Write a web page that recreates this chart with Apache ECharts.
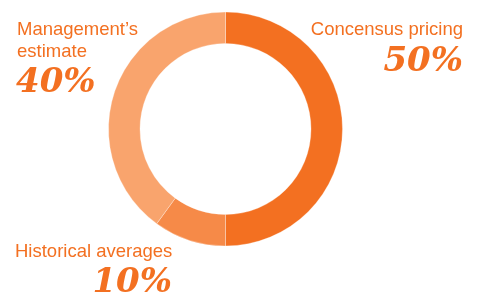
<!DOCTYPE html>
<html><head><meta charset="utf-8">
<script src="https://cdn.jsdelivr.net/npm/echarts@6/dist/echarts.min.js"></script>
<style>html,body{margin:0;padding:0;background:#fff}#c{width:479px;height:293px}</style>
</head><body><div id="c"></div>
<script>
var categories = ['Concensus pricing', 'Historical averages', 'Management\u2019s\nestimate'];
var values = [50, 10, 40];
var colors = ['#F37021', '#F68A48', '#F9A46D'];

var chart = echarts.init(document.getElementById('c'), null, {renderer: 'canvas'});
var nameFont = '18.5px "Liberation Sans", Arial, sans-serif';
var pctFont = 'italic bold 34px "DejaVu Serif", serif';
var txtColor = '#F37021';
var labelPos = [
  {x: 463, y: 19, align: 'right', px: 463, py: 45, palign: 'right'},
  {x: 15, y: 241, align: 'left', px: 172, py: 266, palign: 'right'},
  {x: 17, y: 19, align: 'left', px: 16, py: 66, palign: 'left'}
];
var graphics = [];
categories.forEach(function (c, i) {
  var p = labelPos[i];
  graphics.push({type: 'text', style: {x: p.x, y: p.y, text: c, font: nameFont, fill: txtColor, align: p.align, verticalAlign: 'top', lineHeight: 22}});
  graphics.push({type: 'text', style: {x: p.px, y: p.py, text: values[i] + '%', font: pctFont, fill: txtColor, align: p.palign, verticalAlign: 'top'}});
});

chart.setOption({
  animation: false,
  series: [{
    type: 'pie',
    center: [225.5, 129],
    radius: [85.5, 117],
    startAngle: 90,
    clockwise: true,
    label: {show: false},
    labelLine: {show: false},
    itemStyle: {borderColor: 'rgba(255,255,255,0.6)', borderWidth: 0.5},
    data: categories.map(function (c, i) {
      return {name: c, value: values[i], itemStyle: {color: colors[i]}};
    })
  }],
  graphic: graphics
});
</script></body></html>
